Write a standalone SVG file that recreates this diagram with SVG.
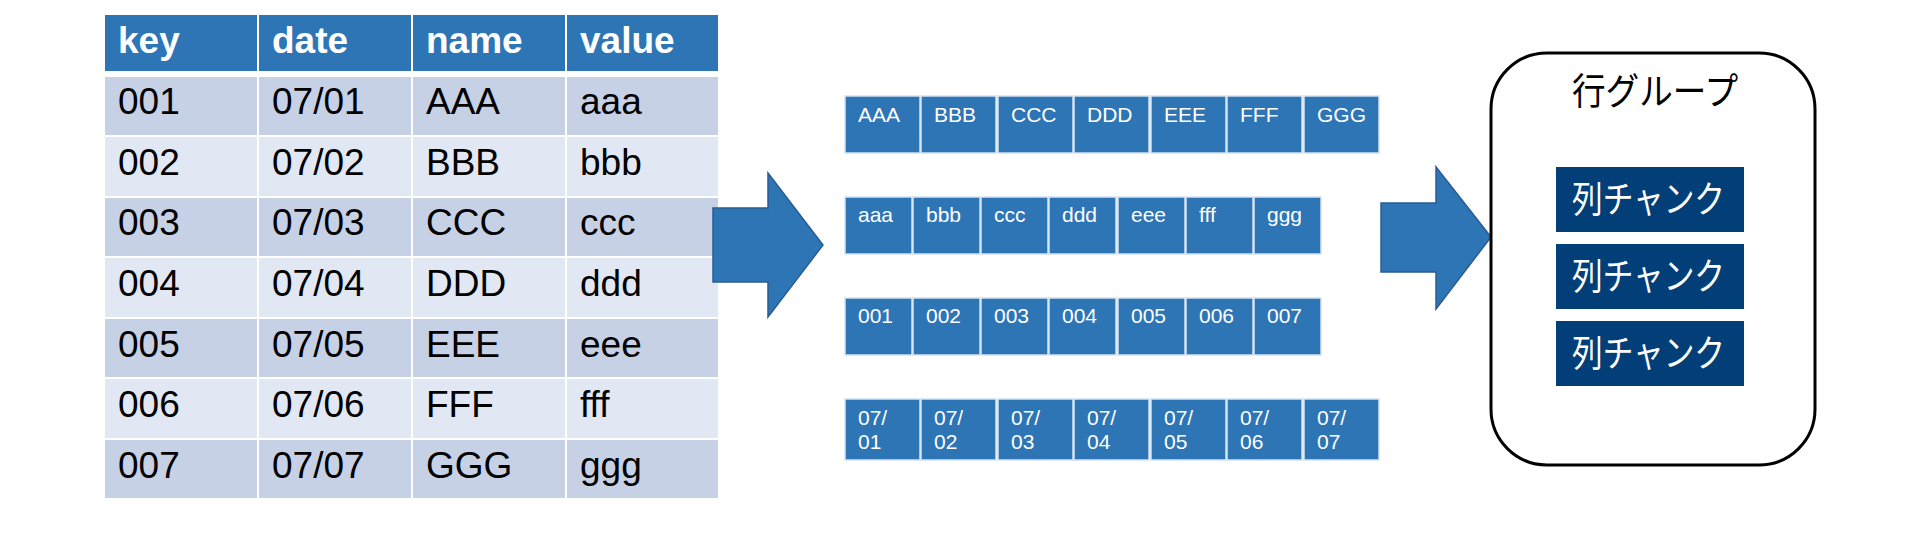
<svg xmlns="http://www.w3.org/2000/svg" width="1920" height="549" viewBox="0 0 1920 549">
<style>
.hd{fill:#2E75B6}
.dk{fill:#C7D1E6}
.lt{fill:#E2E8F3}
.th{font-family:"Liberation Sans",Arial,sans-serif;font-size:37px;font-weight:bold;fill:#fff}
.td{font-family:"Liberation Sans",Arial,sans-serif;font-size:37px;fill:#000}
.blk{fill:#2E75B6;stroke:#D3E2F2;stroke-width:1.5}
.bt{font-family:"Liberation Sans",Arial,sans-serif;font-size:21px;fill:#fff}
.arrow{fill:#2E75B6;stroke:#2A5C94;stroke-width:1.5}
.chunk{fill:#023F78}
.ct{font-family:"Noto Sans CJK JP",sans-serif;font-size:37px;fill:#fff}
</style>
<rect width="1920" height="549" fill="#fff"/>
<g id="table">
<rect class="hd" x="105" y="15" width="152" height="56"/><rect class="hd" x="259" y="15" width="152" height="56"/><rect class="hd" x="413" y="15" width="152" height="56"/><rect class="hd" x="567" y="15" width="151" height="56"/>
<text class="th" x="118" y="53">key</text><text class="th" x="272" y="53">date</text><text class="th" x="426" y="53">name</text><text class="th" x="580" y="53">value</text>
<g class="dk"><rect x="105" y="77" width="152" height="58"/><rect x="259" y="77" width="152" height="58"/><rect x="413" y="77" width="152" height="58"/><rect x="567" y="77" width="151" height="58"/></g>
<g class="lt"><rect x="105" y="137" width="152" height="59"/><rect x="259" y="137" width="152" height="59"/><rect x="413" y="137" width="152" height="59"/><rect x="567" y="137" width="151" height="59"/></g>
<g class="dk"><rect x="105" y="198" width="152" height="58"/><rect x="259" y="198" width="152" height="58"/><rect x="413" y="198" width="152" height="58"/><rect x="567" y="198" width="151" height="58"/></g>
<g class="lt"><rect x="105" y="258" width="152" height="59"/><rect x="259" y="258" width="152" height="59"/><rect x="413" y="258" width="152" height="59"/><rect x="567" y="258" width="151" height="59"/></g>
<g class="dk"><rect x="105" y="319" width="152" height="58"/><rect x="259" y="319" width="152" height="58"/><rect x="413" y="319" width="152" height="58"/><rect x="567" y="319" width="151" height="58"/></g>
<g class="lt"><rect x="105" y="379" width="152" height="59"/><rect x="259" y="379" width="152" height="59"/><rect x="413" y="379" width="152" height="59"/><rect x="567" y="379" width="151" height="59"/></g>
<g class="dk"><rect x="105" y="440" width="152" height="58"/><rect x="259" y="440" width="152" height="58"/><rect x="413" y="440" width="152" height="58"/><rect x="567" y="440" width="151" height="58"/></g>
<g class="td">
<text x="118" y="114">001</text><text x="272" y="114">07/01</text><text x="426" y="114">AAA</text><text x="580" y="114">aaa</text>
<text x="118" y="175">002</text><text x="272" y="175">07/02</text><text x="426" y="175">BBB</text><text x="580" y="175">bbb</text>
<text x="118" y="235">003</text><text x="272" y="235">07/03</text><text x="426" y="235">CCC</text><text x="580" y="235">ccc</text>
<text x="118" y="296">004</text><text x="272" y="296">07/04</text><text x="426" y="296">DDD</text><text x="580" y="296">ddd</text>
<text x="118" y="357">005</text><text x="272" y="357">07/05</text><text x="426" y="357">EEE</text><text x="580" y="357">eee</text>
<text x="118" y="417">006</text><text x="272" y="417">07/06</text><text x="426" y="417">FFF</text><text x="580" y="417">fff</text>
<text x="118" y="478">007</text><text x="272" y="478">07/07</text><text x="426" y="478">GGG</text><text x="580" y="478">ggg</text>
</g>
</g>
<g id="connectors">
<path class="arrow" d="M713,208 H768 V173 L823,245 L768,317 V282 H713 Z"/>
<path class="arrow" d="M1381,203 H1436 V167 L1491,237 L1436,309 V272 H1381 Z"/>
</g>
<g id="col-name">
<rect class="blk" x="845" y="96" width="75" height="57"/><rect class="blk" x="921" y="96" width="75" height="57"/><rect class="blk" x="998" y="96" width="75" height="57"/><rect class="blk" x="1074" y="96" width="75" height="57"/><rect class="blk" x="1151" y="96" width="75" height="57"/><rect class="blk" x="1227" y="96" width="75" height="57"/><rect class="blk" x="1304" y="96" width="75" height="57"/>
<g class="bt"><text x="858" y="122">AAA</text><text x="934" y="122">BBB</text><text x="1011" y="122">CCC</text><text x="1087" y="122">DDD</text><text x="1164" y="122">EEE</text><text x="1240" y="122">FFF</text><text x="1317" y="122">GGG</text></g>
</g>
<g id="col-value">
<rect class="blk" x="845" y="197" width="67" height="57"/><rect class="blk" x="913" y="197" width="67" height="57"/><rect class="blk" x="981" y="197" width="67" height="57"/><rect class="blk" x="1049" y="197" width="67" height="57"/><rect class="blk" x="1118" y="197" width="67" height="57"/><rect class="blk" x="1186" y="197" width="67" height="57"/><rect class="blk" x="1254" y="197" width="67" height="57"/>
<g class="bt"><text x="858" y="222">aaa</text><text x="926" y="222">bbb</text><text x="994" y="222">ccc</text><text x="1062" y="222">ddd</text><text x="1131" y="222">eee</text><text x="1199" y="222">fff</text><text x="1267" y="222">ggg</text></g>
</g>
<g id="col-key">
<rect class="blk" x="845" y="298" width="67" height="57"/><rect class="blk" x="913" y="298" width="67" height="57"/><rect class="blk" x="981" y="298" width="67" height="57"/><rect class="blk" x="1049" y="298" width="67" height="57"/><rect class="blk" x="1118" y="298" width="67" height="57"/><rect class="blk" x="1186" y="298" width="67" height="57"/><rect class="blk" x="1254" y="298" width="67" height="57"/>
<g class="bt"><text x="858" y="323">001</text><text x="926" y="323">002</text><text x="994" y="323">003</text><text x="1062" y="323">004</text><text x="1131" y="323">005</text><text x="1199" y="323">006</text><text x="1267" y="323">007</text></g>
</g>
<g id="col-date">
<rect class="blk" x="845" y="399" width="75" height="61"/><rect class="blk" x="921" y="399" width="75" height="61"/><rect class="blk" x="998" y="399" width="75" height="61"/><rect class="blk" x="1074" y="399" width="75" height="61"/><rect class="blk" x="1151" y="399" width="75" height="61"/><rect class="blk" x="1227" y="399" width="75" height="61"/><rect class="blk" x="1304" y="399" width="75" height="61"/>
<g class="bt">
<text x="858" y="425">07/</text><text x="858" y="449">01</text>
<text x="934" y="425">07/</text><text x="934" y="449">02</text>
<text x="1011" y="425">07/</text><text x="1011" y="449">03</text>
<text x="1087" y="425">07/</text><text x="1087" y="449">04</text>
<text x="1164" y="425">07/</text><text x="1164" y="449">05</text>
<text x="1240" y="425">07/</text><text x="1240" y="449">06</text>
<text x="1317" y="425">07/</text><text x="1317" y="449">07</text>
</g>
</g>
<g id="row-group">
<rect x="1491" y="53" width="324" height="412" rx="56" ry="56" fill="#fff" stroke="#000" stroke-width="3"/>
<text x="1572" y="105" font-family="'Noto Sans CJK JP',sans-serif" font-size="37" fill="#000" textLength="166" lengthAdjust="spacingAndGlyphs">行グループ</text>
</g>
<g id="chunk1"><rect class="chunk" x="1556" y="167" width="188" height="65"/><text class="ct" x="1572" y="213" textLength="153" lengthAdjust="spacingAndGlyphs">列チャンク</text></g>
<g id="chunk2"><rect class="chunk" x="1556" y="244" width="188" height="65"/><text class="ct" x="1572" y="290" textLength="153" lengthAdjust="spacingAndGlyphs">列チャンク</text></g>
<g id="chunk3"><rect class="chunk" x="1556" y="321" width="188" height="65"/><text class="ct" x="1572" y="367" textLength="153" lengthAdjust="spacingAndGlyphs">列チャンク</text></g>
</svg>
